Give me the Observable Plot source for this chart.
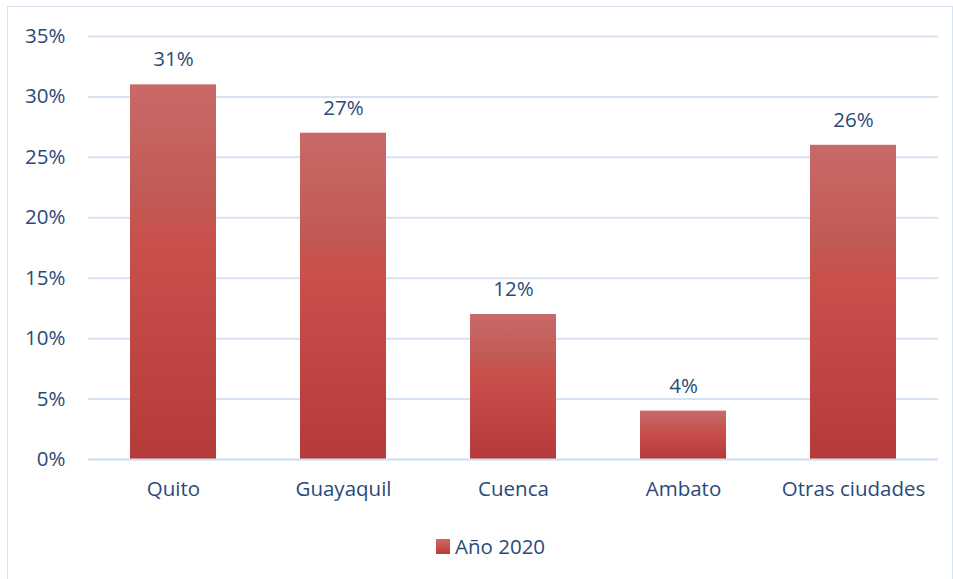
<!DOCTYPE html>
<html>
<head>
<meta charset="utf-8">
<script src="https://cdn.jsdelivr.net/npm/d3@7"></script>
<script src="https://cdn.jsdelivr.net/npm/@observablehq/plot@0.6"></script>
<style>
  html, body { margin: 0; padding: 0; background: #fff; }
  body { width: 953px; height: 579px; position: relative; overflow: hidden; font-family: "Open Sans", Lato, sans-serif; }
  #frame { position: absolute; left: 7px; top: 6px; width: 946px; height: 580px; border: 1.5px solid #d9e4f2; box-sizing: border-box; }
  #chart { position: absolute; left: 0; top: 0; }
  #legend { position: absolute; left: 436px; top: 532px; display: flex; align-items: center; color: #2a4a7a; font-size: 20.5px; }
  #legend .sw { width: 14px; height: 15px; background: linear-gradient(#c86a68, #c94f4a 55%, #b53b3b); margin-right: 5px; }
</style>
</head>
<body>
<div id="frame"></div>
<div id="chart"></div>
<div id="legend"><span class="sw"></span><span>Año 2020</span></div>
<script>
const cities = ["Quito", "Guayaquil", "Cuenca", "Ambato", "Otras ciudades"];
const values2020 = [0.31, 0.27, 0.12, 0.04, 0.26];
const yTicks = [0, 0.05, 0.10, 0.15, 0.20, 0.25, 0.30, 0.35];
const seriesName = "Año 2020";

const data = cities.map((c, i) => ({city: c, value: values2020[i]}));
const textColor = "#2a4a7a";
const gridColor = "#d6e2f2";
const fs = 20.5;

const plot = Plot.plot({
  width: 953,
  height: 520,
  marginTop: 36,
  marginBottom: 61,
  marginLeft: 88,
  marginRight: 15,
  style: {fontFamily: '"Open Sans", Lato, sans-serif', fontSize: fs + "px", color: textColor, background: "transparent"},
  x: {domain: cities, paddingInner: 0.494, paddingOuter: 0.247, label: null},
  y: {domain: [0, 0.35], label: null},
  marks: [
    Plot.ruleY(yTicks, {stroke: gridColor, strokeWidth: 2}),
    Plot.barY(data, {x: "city", y: "value", fill: "url(#barGrad)"}),
    Plot.ruleY([0], {stroke: gridColor, strokeWidth: 2}),
    Plot.text(data, {x: "city", y: "value", text: d => Math.round(d.value * 100) + "%", dy: -25, fill: textColor, fontSize: fs}),
    Plot.axisY({ticks: yTicks, tickSize: 0, tickPadding: 23, tickFormat: d => Math.round(d * 100) + "%", fontSize: fs, fill: textColor, label: null}),
    Plot.axisX({tickSize: 0, tickPadding: 22, fontSize: fs, fill: textColor, label: null})
  ]
});

const ns = "http://www.w3.org/2000/svg";
const defs = document.createElementNS(ns, "defs");
const grad = document.createElementNS(ns, "linearGradient");
grad.setAttribute("id", "barGrad");
grad.setAttribute("x1", "0"); grad.setAttribute("y1", "0");
grad.setAttribute("x2", "0"); grad.setAttribute("y2", "1");
[["0", "#c86a68"], ["0.3", "#c15a55"], ["0.42", "#c9504b"], ["1", "#b53b3b"]].forEach(([o, c]) => {
  const s = document.createElementNS(ns, "stop");
  s.setAttribute("offset", o); s.setAttribute("stop-color", c);
  grad.appendChild(s);
});
defs.appendChild(grad);
plot.insertBefore(defs, plot.firstChild);
document.getElementById("chart").appendChild(plot);
</script>
</body>
</html>
